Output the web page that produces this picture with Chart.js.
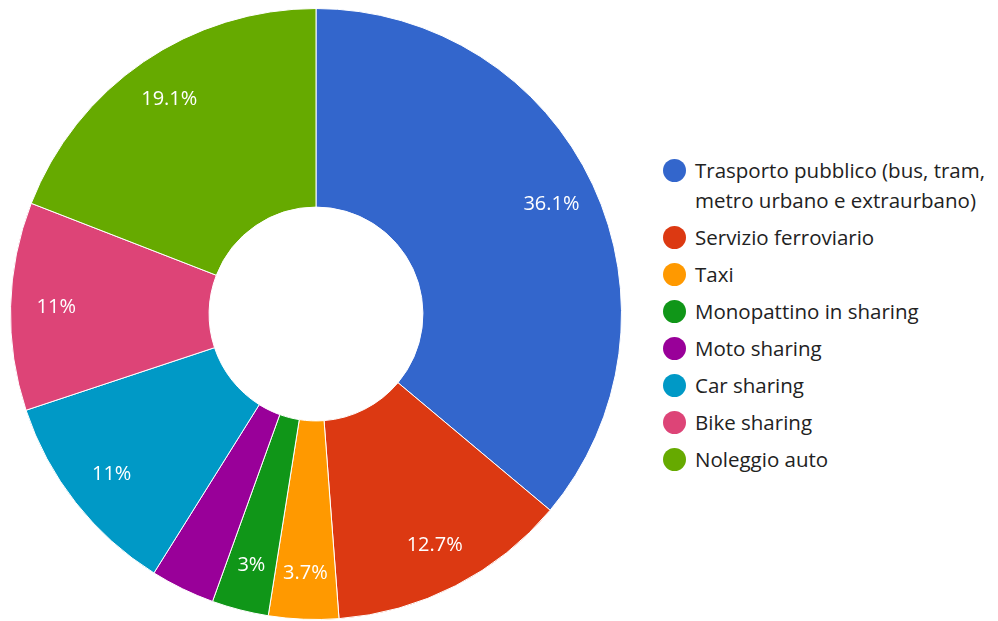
<!DOCTYPE html>
<html>
<head>
<meta charset="utf-8">
<script src="https://cdn.jsdelivr.net/npm/chart.js@4"></script>
<style>
  body { margin: 0; background: #fff; font-family: "Open Sans", sans-serif; }
  #wrap { position: relative; width: 998px; height: 621px; }
  #torta { position: absolute; left: 0; top: 0; width: 622px; height: 621px; }
  #legenda { position: absolute; left: 663px; top: 155px; list-style: none; margin: 0; padding: 0; }
  #legenda li { position: relative; padding-left: 32px; font-size: 20.5px; line-height: 30px; color: #222; margin-bottom: 7px; max-width: 310px; }
  #legenda span { position: absolute; left: 0; top: 4px; width: 23px; height: 23px; border-radius: 50%; }
</style>
</head>
<body>
<div id="wrap">
  <div id="torta"><canvas id="grafico"></canvas></div>
  <ul id="legenda"></ul>
</div>
<script>
const categorie = ["Trasporto pubblico (bus, tram, metro urbano e extraurbano)", "Servizio ferroviario", "Taxi",
  "Monopattino in sharing", "Moto sharing", "Car sharing", "Bike sharing", "Noleggio auto"];
const percentuali = [36.1, 12.7, 3.7, 3, 3.4, 11, 11, 19.1];
const colori = ["#3366cc", "#dc3912", "#ff9900", "#109618", "#990099", "#0099c6", "#dd4477", "#66aa00"];
const senzaEtichetta = ["Moto sharing"]; // fetta troppo stretta, niente testo

// etichette percentuali dentro le fette
const etichettePlugin = {
  id: "etichette",
  afterDatasetsDraw(chart) {
    const ctx = chart.ctx;
    const meta = chart.getDatasetMeta(0);
    ctx.save();
    ctx.fillStyle = "#fff";
    ctx.font = "20px 'Open Sans'";
    ctx.textAlign = "center";
    ctx.textBaseline = "middle";
    meta.data.forEach((arco, i) => {
      if (senzaEtichetta.includes(categorie[i])) return;
      const p = arco.getProps(["x", "y", "startAngle", "endAngle", "innerRadius", "outerRadius"]);
      const ang = (p.startAngle + p.endAngle) / 2;
      const r = p.innerRadius + (p.outerRadius - p.innerRadius) * 0.77;
      ctx.fillText(percentuali[i] + "%", p.x + Math.cos(ang) * r, p.y + Math.sin(ang) * r);
    });
    ctx.restore();
  }
};

const grafico = new Chart(document.getElementById("grafico"), {
  type: "doughnut",
  data: {
    labels: categorie,
    datasets: [{
      data: percentuali,
      backgroundColor: colori,
      borderColor: "#fff",
      borderWidth: 1,
      hoverOffset: 0
    }]
  },
  options: {
    responsive: true,
    maintainAspectRatio: false,
    animation: false,
    cutout: "35%",
    layout: { padding: { left: 10, top: 7, bottom: 0 } },
    plugins: {
      legend: { display: false },
      tooltip: { enabled: false }
    }
  },
  plugins: [etichettePlugin]
});

// legenda in html a destra
const legenda = document.getElementById("legenda");
categorie.forEach((nome, i) => {
  const li = document.createElement("li");
  li.innerHTML = `<span style="background:${colori[i]}"></span>${nome}`;
  legenda.appendChild(li);
});
</script>
</body>
</html>
